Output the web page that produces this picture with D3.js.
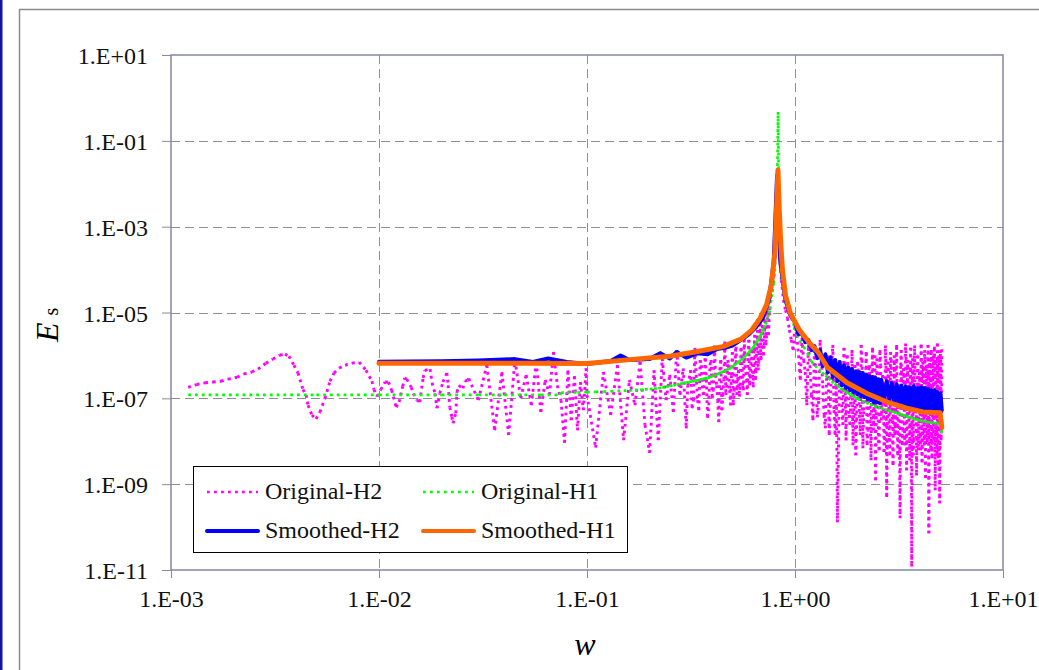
<!DOCTYPE html>
<html>
<head>
<meta charset="utf-8">
<title>Spectra E_s vs w</title>
<script src="https://d3js.org/d3.v7.min.js"></script>
<style>
  html, body { margin: 0; padding: 0; background: #fff; }
  svg { display: block; font-family: "Liberation Serif", "DejaVu Serif", serif; }
</style>
</head>
<body>
<svg id="chart" width="1039" height="670"></svg>
<script>
// tick values and their labels
var xTicks = [1e-3, 1e-2, 1e-1, 1e0, 1e1];
var xTickLabels = ["1.E-03", "1.E-02", "1.E-01", "1.E+00", "1.E+01"];
var yTicks = [1e1, 1e-1, 1e-3, 1e-5, 1e-7, 1e-9, 1e-11];
var yTickLabels = ["1.E+01", "1.E-01", "1.E-03", "1.E-05", "1.E-07", "1.E-09", "1.E-11"];

// Original-H2 : [w, Es]
var origH2 = [
  [1.21e-3,1.8e-7],[1.33e-3,2.1e-7],[1.46e-3,2.3e-7],[1.59e-3,2.4e-7],[1.74e-3,2.5e-7],[1.88e-3,2.8e-7],
  [2.08e-3,3.1e-7],[2.24e-3,3.7e-7],[2.45e-3,4.1e-7],[2.62e-3,4.8e-7],[2.86e-3,6.6e-7],[3.09e-3,8.2e-7],
  [3.34e-3,1.02e-6],[3.53e-3,1.07e-6],[3.69e-3,9.6e-7],[3.90e-3,5.9e-7],[4.08e-3,3.9e-7],[4.31e-3,1.6e-7],
  [4.46e-3,1.2e-7],[4.56e-3,6.9e-8],[4.76e-3,4.1e-8],[4.98e-3,3.3e-8],[5.20e-3,4.8e-8],[5.50e-3,1.0e-7],
  [5.81e-3,2.5e-7],[6.08e-3,3.9e-7],[6.43e-3,5.1e-7],[6.87e-3,5.9e-7],[7.42e-3,6.6e-7],[8.02e-3,7.0e-7],
  [8.66e-3,4.5e-7],[9.25e-3,2.5e-7],[9.46e-3,1.6e-7],[9.77e-3,1.1e-7],
  [1.02e-2,1.6e-7],[1.07e-2,2.4e-7],[1.11e-2,2.4e-7],[1.15e-2,1.55e-7],[1.21e-2,6.2e-8],[1.25e-2,8.2e-8],
  [1.30e-2,1.9e-7],[1.33e-2,3.0e-7],[1.36e-2,2.8e-7],[1.43e-2,1.8e-7],[1.46e-2,1.3e-7],[1.52e-2,9.1e-8],
  [1.57e-2,8.2e-8],[1.63e-2,3.0e-7],[1.66e-2,4.5e-7],[1.76e-2,4.8e-7],[1.80e-2,2.3e-7],[1.86e-2,1.3e-7],
  [1.90e-2,5.9e-8],[1.96e-2,1.3e-7],[2.03e-2,2.4e-7],[2.12e-2,3.9e-7],[2.15e-2,2.0e-7],[2.19e-2,6.2e-8],
  [2.24e-2,3.7e-8],[2.27e-2,2.6e-8],[2.34e-2,4.5e-8],[2.37e-2,1.4e-7],[2.42e-2,2.0e-7],[2.53e-2,1.7e-7],
  [2.59e-2,2.5e-7],[2.68e-2,2.7e-7],
  [0.027,2.9e-7],[0.030,9.1e-8],[0.033,5.9e-7],[0.036,1.8e-8],[0.039,4.1e-7],[0.042,1.4e-8],
  [0.045,7.8e-7],[0.048,1.0e-7],[0.051,3.5e-7],[0.054,6.9e-8],[0.057,7.1e-7],[0.060,4.8e-8],
  [0.063,2.7e-7],[0.066,1.2e-7],[0.069,1.2e-6],[0.072,2.0e-7],[0.075,9.1e-8],[0.078,9.3e-9],
  [0.081,4.5e-7],[0.084,3.1e-8],[0.087,3.3e-7],[0.090,1.8e-8],[0.093,2.4e-7],[0.096,5.3e-8],
  [0.099,5.0e-7],
  [0.10,1.2e-7],[0.11,7.1e-9],[0.12,4.1e-7],[0.13,4.1e-8],[0.14,5.9e-7],[0.15,1.06e-8],
  [0.16,2.7e-7],[0.17,6.9e-8],[0.18,7.1e-7],[0.19,2.4e-8],[0.20,5.4e-9],[0.21,4.5e-7],
  [0.22,1.06e-8],[0.23,8.5e-7],[0.24,9.1e-8],[0.25,3.5e-7],[0.26,4.8e-8],[0.27,1.33e-6],
  [0.28,1.2e-7],[0.29,5.0e-7],[0.30,2.0e-8],
  [0.305,2.0e-7],[0.31,2.9e-7],[0.315,4.5e-7],[0.32,5.9e-8],[0.325,9.1e-8],[0.33,1.5e-6],
  [0.335,3.5e-7],[0.34,9.1e-8],[0.345,5.3e-8],[0.35,7.8e-7],[0.355,5.9e-7],[0.36,1.4e-7],
  [0.365,1.2e-7],[0.37,1.2e-6],[0.375,2.7e-7],[0.38,3.5e-8],[0.385,6.9e-8],[0.39,5.9e-7],
  [0.395,7.8e-7],[0.40,1.0e-7],[0.405,1.55e-7],[0.41,1.7e-6],[0.415,3.5e-7],[0.42,2.0e-7],
  [0.425,9.1e-8],[0.43,2.8e-8],[0.435,4.5e-7],[0.44,7.8e-7],[0.445,5.3e-8],[0.45,1.2e-7],
  [0.455,2.7e-7],[0.46,2.1e-6],[0.465,1.2e-7],[0.47,1.8e-7],[0.475,7.8e-7],[0.48,5.9e-7],
  [0.485,1.55e-7],[0.49,6.9e-8],[0.495,3.5e-7],[0.50,1.2e-6],[0.505,6.9e-8],[0.51,1.55e-7],
  [0.515,5.9e-7],[0.52,2.3e-6],[0.525,1.2e-7],[0.53,2.7e-7],[0.535,4.5e-7],[0.54,1.1e-7],
  [0.545,2.0e-7],[0.55,1.5e-6],[0.555,1.0e-6],[0.56,2.0e-7],[0.565,1.55e-7],[0.57,2.6e-6],
  [0.575,5.9e-7],[0.58,4.1e-7],[0.585,2.7e-7],[0.59,1.2e-7],[0.595,1.0e-6],[0.60,2.3e-6],
  [0.605,2.0e-7],[0.61,2.9e-7],[0.615,7.8e-7],[0.62,1.33e-6],[0.625,3.5e-7],[0.63,1.8e-7],
  [0.635,1.33e-6],[0.64,3.0e-6],[0.645,2.7e-7],[0.65,4.5e-7],[0.655,1.74e-6],[0.66,3.9e-6],
  [0.665,4.5e-7],[0.67,7.1e-7],[0.675,2.27e-6],[0.68,6.0e-6],[0.685,7.8e-7],[0.69,1.0e-6],
  [0.695,2.97e-6],[0.70,7.4e-6],[0.705,1.0e-6],[0.71,1.74e-6],[0.715,3.9e-6],[0.72,1.0e-5],
  [0.725,1.74e-6],[0.73,3.0e-6],[0.735,6.65e-6],[0.74,1.5e-5],[0.745,2.97e-6],[0.75,6.0e-6],
  [0.755,1.14e-5],[0.76,2.1e-5],
  [0.77,4.4e-5],[0.78,3.0e-5],[0.79,1.5e-4],[0.80,4.9e-4],[0.81,3.2e-3],
  [0.82,1.2e-2],[0.83,1.9e-3],[0.84,2.9e-4],[0.86,5.7e-5],
  [0.88,1.95e-5],[0.90,1.14e-5],[0.92,7.4e-6],[0.94,3.9e-6],[0.96,2.3e-6],[0.98,1.33e-6],
  [1.00,5.1e-6],[1.02,2.97e-6],[1.04,1.0e-6],[1.06,2.7e-7],[1.08,2.5e-6],[1.10,7.8e-7],
  [1.12,4.1e-7],[1.14,6.9e-8],[1.16,1.74e-6],[1.18,5.9e-7],[1.20,1.2e-7],[1.22,3.1e-8],
  [1.24,1.33e-6],[1.26,4.5e-7],[1.28,3.6e-8],[1.30,9.1e-8],[1.32,2.3e-6],[1.34,7.8e-7],
  [1.36,2.0e-7],[1.38,4.1e-8],[1.40,2.0e-8],[1.42,3.5e-7],[1.44,1.0e-6],[1.46,1.4e-8],
  [1.48,9.1e-8],[1.50,5.9e-7],[1.52,1.74e-6],[1.54,5.3e-8],[1.56,1.4e-8],[1.58,2.7e-7],
  [1.60,1.3e-10],[1.62,1.06e-8],[1.64,7.8e-7],[1.66,4.5e-7],[1.68,5.3e-8],[1.70,2.4e-8],
  [1.72,1.5e-6],[1.74,2.0e-7],[1.76,1.06e-8],[1.78,1.0e-6],[1.80,4.5e-7],[1.82,4.1e-8],
  [1.84,2.4e-8],[1.86,1.55e-7],[1.88,1.33e-6],[1.90,8.1e-9],[1.92,1.2e-7],[1.94,5.9e-7],
  [1.96,4.7e-9],[1.98,3.1e-8],[2.00,7.1e-7],[2.02,3.5e-7],[2.04,4.1e-8],[2.06,1.4e-8],
  [2.08,1.74e-6],[2.10,7.8e-7],[2.12,6.9e-9],[2.14,5.3e-8],[2.16,2.7e-7],[2.18,1.55e-7],
  [2.20,1.2e-6],[2.22,8.1e-9],[2.24,1.8e-8],[2.26,4.5e-7],[2.28,5.9e-7],[2.30,3.1e-8],
  [2.32,3.6e-9],[2.34,2.7e-7],[2.36,1.5e-6],[2.38,1.8e-8],[2.40,6.9e-8],[2.42,1.0e-6],
  [2.44,1.24e-9],[2.46,4.1e-8],[2.48,8.5e-7],[2.50,2.0e-7],[2.52,1.06e-8],[2.54,6.2e-9],
  [2.56,1.33e-6],[2.58,5.9e-7],[2.60,3.1e-8],[2.62,6.9e-8],[2.64,3.5e-7],[2.66,1.2e-7],
  [2.68,5.6e-9],[2.70,1.06e-8],[2.72,1.7e-6],[2.74,4.5e-7],[2.76,5.0e-10],[2.78,2.4e-8],
  [2.80,7.1e-7],[2.82,2.7e-7],[2.84,1.2e-8],[2.86,4.7e-9],[2.88,1.2e-6],[2.90,7.8e-7],
  [2.92,5.3e-8],[2.94,3.1e-8],[2.96,2.8e-9],[2.98,1.55e-7],[3.00,1.0e-6],[3.02,1.4e-8],
  [3.04,2.4e-8],[3.06,4.5e-7],[3.08,1.74e-6],[3.10,5.3e-8],[3.12,4.7e-9],[3.14,2.0e-7],
  [3.16,2.0e-7],[3.18,6.2e-9],[3.20,1.6e-10],[3.22,5.9e-7],[3.24,1.33e-6],[3.26,9.1e-8],
  [3.28,8.1e-9],[3.30,1.8e-8],[3.32,5.0e-7],[3.34,3.5e-7],[3.36,1.8e-8],[3.38,8.1e-9],
  [3.40,1.9e-6],[3.42,7.8e-7],[3.44,2.1e-9],[3.46,4.1e-8],[3.48,7.8e-7],[3.50,1.55e-7],
  [3.52,6.9e-8],[3.54,1.06e-8],[3.56,3.6e-9],[3.58,4.5e-7],[3.60,1.5e-6],[3.62,2.4e-8],
  [3.64,1.2e-11],[3.66,2.7e-7],[3.68,8.5e-7],[3.70,4.7e-9],[3.72,1.06e-8],[3.74,5.9e-7],
  [3.76,1.7e-6],[3.78,5.3e-8],[3.80,3.1e-8],[3.82,1.2e-7],[3.84,1.6e-9],[3.86,1.06e-8],
  [3.88,1.0e-6],[3.90,1.0e-6],[3.92,6.2e-9],[3.94,3.1e-8],[3.96,4.1e-7],[3.98,2.0e-7],
  [4.00,1.4e-8],[4.02,6.2e-9],[4.04,1.8e-6],[4.06,4.5e-7],[4.08,3.2e-9],[4.10,1.8e-8],
  [4.12,7.1e-7],[4.14,2.7e-7],[4.16,5.3e-8],[4.18,8.1e-9],[4.20,1.33e-6],[4.22,7.8e-7],
  [4.24,1.4e-9],[4.26,6.9e-8],[4.28,5.9e-7],[4.30,1.55e-7],[4.32,9.6e-9],[4.34,1.4e-8],
  [4.36,1.74e-6],[4.38,3.5e-7],[4.40,7.2e-11],[4.42,3.1e-8],[4.44,8.5e-7],[4.46,5.9e-7],
  [4.48,2.4e-8],[4.50,6.2e-9],[4.52,1.33e-6],[4.54,2.0e-7],[4.56,4.0e-9],[4.58,4.1e-8],
  [4.60,3.5e-7],[4.62,1.0e-6],[4.64,1.06e-8],[4.66,1.06e-8],[4.68,1.6e-6],[4.70,3.5e-7],
  [4.72,7.2e-10],[4.74,2.4e-8],[4.76,7.8e-7],[4.78,1.2e-7],[4.80,1.8e-8],[4.82,4.7e-9],
  [4.84,1.9e-6],[4.86,5.9e-7],[4.88,2.8e-9],[4.90,5.3e-8],[4.92,1.0e-6],[4.94,2.7e-7],
  [4.96,3.6e-10],[4.98,8.1e-9],[5.00,1.33e-6],[5.02,7.8e-7],[5.04,1.06e-8],[5.06,3.1e-8],
  [5.08,1.74e-6]
];

// Original-H1 : [w, Es]
var origH1 = [
  [1.21e-3,1.2e-7],[5.0e-3,1.2e-7],[1.0e-2,1.2e-7],[2.0e-2,1.2e-7],[0.03,1.2e-7],[0.04,1.2e-7],
  [0.05,1.2e-7],[0.06,1.2e-7],[0.07,1.2e-7],[0.074,1.2e-7],[0.075,1.35e-7],
  [0.08,1.36e-7],[0.09,1.38e-7],[0.10,1.39e-7],[0.11,1.41e-7],[0.12,1.43e-7],[0.13,1.45e-7],
  [0.14,1.48e-7],[0.15,1.51e-7],[0.16,1.53e-7],[0.17,1.56e-7],[0.18,1.58e-7],[0.19,1.62e-7],
  [0.20,1.65e-7],[0.21,1.67e-7],[0.22,1.72e-7],[0.23,1.78e-7],[0.24,1.86e-7],[0.25,1.94e-7],
  [0.26,2.01e-7],[0.27,2.09e-7],[0.28,2.17e-7],[0.29,2.26e-7],[0.30,2.33e-7],
  [0.31,2.40e-7],[0.32,2.48e-7],[0.33,2.56e-7],[0.34,2.64e-7],[0.35,2.73e-7],[0.36,2.82e-7],
  [0.37,2.91e-7],[0.38,3.0e-7],[0.39,3.1e-7],[0.40,3.25e-7],[0.41,3.42e-7],[0.42,3.59e-7],
  [0.43,3.78e-7],[0.44,3.96e-7],[0.45,4.17e-7],[0.46,4.38e-7],[0.47,4.6e-7],[0.48,4.83e-7],
  [0.49,5.09e-7],[0.50,5.48e-7],[0.51,5.89e-7],[0.52,6.31e-7],[0.53,6.78e-7],[0.54,7.28e-7],
  [0.55,7.8e-7],[0.56,8.4e-7],[0.57,9.1e-7],[0.58,9.9e-7],[0.59,1.08e-6],[0.60,1.18e-6],
  [0.61,1.29e-6],[0.62,1.40e-6],[0.63,1.53e-6],[0.64,1.73e-6],[0.65,1.95e-6],[0.66,2.20e-6],
  [0.67,2.48e-6],[0.68,2.79e-6],[0.69,3.15e-6],[0.70,3.67e-6],[0.71,4.39e-6],[0.72,5.25e-6],
  [0.73,6.27e-6],[0.74,7.85e-6],[0.75,9.6e-6],[0.76,1.19e-5],[0.77,2.3e-5],[0.78,3.0e-5],
  [0.79,4.8e-5],[0.80,9.0e-5],[0.81,4.0e-4],[0.82,4.2e-3],[0.829,0.47],[0.835,1.4e-2],
  [0.842,1.4e-3],[0.85,2.6e-4],[0.856,9.7e-5],[0.87,4.3e-5],[0.88,3.1e-5],[0.90,1.7e-5],
  [0.92,1.25e-5],[0.94,9.5e-6],[0.96,7.5e-6],[0.98,5.6e-6],[1.00,4.3e-6],
  [1.05,2.2e-6],[1.10,1.58e-6],[1.15,1.12e-6],[1.20,7.1e-7],[1.25,5.8e-7],[1.30,4.7e-7],
  [1.35,4.0e-7],[1.40,3.4e-7],[1.45,2.95e-7],[1.50,2.5e-7],[1.55,2.2e-7],[1.60,1.95e-7],
  [1.65,1.7e-7],[1.70,1.55e-7],[1.75,1.41e-7],[1.80,1.32e-7],[1.85,1.23e-7],[1.90,1.12e-7],
  [1.95,1.05e-7],[2.0,9.8e-8],[2.1,8.7e-8],[2.2,7.9e-8],[2.3,7.2e-8],[2.4,6.6e-8],
  [2.5,6.2e-8],[2.6,5.9e-8],[2.7,5.5e-8],[2.8,5.2e-8],[2.9,4.95e-8],[3.0,4.7e-8],
  [3.1,4.5e-8],[3.2,4.3e-8],[3.3,4.1e-8],[3.4,3.9e-8],[3.5,3.7e-8],[3.6,3.55e-8],
  [3.7,3.4e-8],[3.8,3.3e-8],[3.9,3.15e-8],[4.0,3.05e-8],[4.1,2.95e-8],[4.2,2.9e-8],
  [4.3,2.8e-8],[4.4,2.75e-8],[4.5,2.7e-8],[4.6,2.7e-8],[4.7,2.65e-8],[4.8,2.6e-8],
  [4.9,2.6e-8],[5.0,2.6e-8],[5.08,1.5e-8]
];

// Smoothed-H2 : [w, Es]
var smoothH2 = [
  [0.01,7.1e-7],[0.02,7.3e-7],[0.03,7.6e-7],[0.045,8.2e-7],[0.055,7.0e-7],[0.065,8.5e-7],
  [0.08,7.0e-7],[0.10,6.3e-7],[0.13,7.4e-7],[0.145,1.0e-6],[0.16,7.8e-7],[0.20,8.2e-7],
  [0.225,1.13e-6],[0.25,8.5e-7],[0.27,1.2e-6],[0.30,8.9e-7],[0.34,1.13e-6],[0.38,1.07e-6],
  [0.42,1.4e-6],[0.46,1.5e-6],[0.50,1.7e-6],[0.55,2.3e-6],[0.60,3.1e-6],[0.65,4.6e-6],
  [0.70,7.4e-6],[0.75,2.0e-5],[0.79,1.5e-4],[0.82,1.6e-2],[0.85,1.5e-4],[0.90,2.0e-5],
  [0.95,8.7e-6],
  [1.00,5.97e-6],[1.04,3.14e-6],[1.08,3.31e-6],[1.12,2.04e-6],[1.16,2.27e-6],[1.20,1.33e-6],
  [1.24,1.65e-6],[1.28,8.65e-7],[1.32,1.33e-6],[1.36,5.64e-7],[1.40,1.07e-6],[1.44,4.08e-7],
  [1.48,9.1e-7],[1.52,3.12e-7],[1.56,7.8e-7],[1.60,2.52e-7],[1.64,6.98e-7],[1.68,2.0e-7],
  [1.72,5.9e-7],[1.76,1.73e-7],[1.80,5.33e-7],[1.84,1.55e-7],[1.88,4.8e-7],[1.92,1.4e-7],
  [1.96,4.3e-7],[2.00,1.25e-7],[2.04,4.08e-7],[2.08,1.12e-7],[2.12,3.87e-7],[2.16,1.07e-7],
  [2.20,3.5e-7],[2.24,9.6e-8],[2.28,3.29e-7],[2.32,9.1e-8],[2.36,3.12e-7],[2.40,8.1e-8],
  [2.44,2.96e-7],[2.48,8.1e-8],[2.52,2.8e-7],[2.56,7.7e-8],[2.60,2.7e-7],
  [2.68,1.0e-7],[2.76,2.5e-7],[2.84,9.1e-8],
  [2.92,2.26e-7],[3.00,8.2e-8],[3.08,2.14e-7],[3.16,7.3e-8],[3.24,2.0e-7],[3.32,6.9e-8],
  [3.40,1.92e-7],[3.48,6.2e-8],[3.56,1.82e-7],[3.64,5.9e-8],[3.72,1.92e-7],[3.80,5.6e-8],
  [3.88,1.73e-7],[3.96,5.3e-8],[4.04,1.82e-7],[4.12,5.3e-8],[4.20,1.73e-7],[4.28,5.0e-8],
  [4.36,1.64e-7],[4.44,5.0e-8],[4.52,1.55e-7],[4.60,4.8e-8],[4.68,1.55e-7],[4.76,4.8e-8],
  [4.84,1.4e-7],[4.92,4.6e-8],[5.00,1.32e-7],[5.08,5.3e-8]
];

// Smoothed-H1 : [w, Es]
var smoothH1 = [
  [0.01,6.6e-7],[0.05,6.6e-7],[0.10,6.5e-7],[0.17,8.2e-7],[0.25,9.6e-7],[0.33,1.2e-6],
  [0.45,1.6e-6],[0.55,2.4e-6],[0.62,3.9e-6],[0.68,7.4e-6],[0.73,1.5e-5],[0.77,4.4e-5],
  [0.80,2.4e-4],[0.815,2.4e-3],[0.828,2.1e-2],[0.84,2.4e-3],[0.855,3.7e-4],[0.87,9.7e-5],
  [0.90,2.5e-5],[0.95,9.7e-6],[1.05,3.9e-6],[1.18,1.9e-6],[1.29,1.2e-6],[1.43,5.3e-7],
  [1.78,2.3e-7],[2.22,1.3e-7],[2.77,8.2e-8],[3.45,5.9e-8],[4.12,4.8e-8],[4.98,4.6e-8],
  [5.08,2.1e-8]
];

var svg = d3.select("#chart");
var W = 1039, H = 670;
var plotL = 171, plotR = 1003, plotT = 55, plotB = 570;

var x = d3.scaleLog().domain([1e-3, 1e1]).range([plotL, plotR]);
var y = d3.scaleLog().domain([1e-11, 1e1]).range([plotB, plotT]);

// outer frame
svg.append("rect").attr("x", 0).attr("y", 0).attr("width", W).attr("height", H).attr("fill", "#fff");
svg.append("rect").attr("x", 0).attr("y", 0).attr("width", 2.5).attr("height", H).attr("fill", "#1414a0");
svg.append("rect")
    .attr("x", 19.5).attr("y", 9.5).attr("width", W + 10).attr("height", H + 10)
    .attr("fill", "none").attr("stroke", "#8c8c8c").attr("stroke-width", 1.5);

// grid
var grid = svg.append("g").attr("stroke", "#8f8f8f").attr("stroke-width", 1).attr("stroke-dasharray", "9,5");
grid.selectAll("line.h").data(yTicks.slice(1, -1)).join("line").attr("class", "h")
    .attr("x1", plotL).attr("x2", plotR)
    .attr("y1", function(d) { return Math.round(y(d)) + 0.5; })
    .attr("y2", function(d) { return Math.round(y(d)) + 0.5; });
grid.selectAll("line.v").data(xTicks.slice(1, -1)).join("line").attr("class", "v")
    .attr("y1", plotT).attr("y2", plotB)
    .attr("x1", function(d) { return Math.round(x(d)) + 0.5; })
    .attr("x2", function(d) { return Math.round(x(d)) + 0.5; });

// axes
var yAxis = d3.axisLeft(y).tickValues(yTicks).tickSize(9).tickPadding(14)
    .tickFormat(function(d, i) { return yTickLabels[i]; });
var xAxis = d3.axisBottom(x).tickValues(xTicks).tickSize(8).tickPadding(24)
    .tickFormat(function(d, i) { return xTickLabels[i]; });

var gy = svg.append("g").attr("transform", "translate(" + plotL + ",0)").call(yAxis);
var gx = svg.append("g").attr("transform", "translate(0," + plotB + ")").call(xAxis);
[gx, gy].forEach(function(g) {
    g.select(".domain").remove();
    g.selectAll(".tick line").attr("stroke", "#8c8c8c");
    g.selectAll(".tick text").attr("fill", "#111").style("font-size", "24px")
        .style("font-family", "'Liberation Serif', serif");
});
gy.selectAll(".tick text").attr("dy", "0.36em");
gx.selectAll(".tick text").attr("dy", "0.2em");

// series, clipped to the plot area
svg.append("clipPath").attr("id", "clip").append("rect")
    .attr("x", plotL).attr("y", plotT).attr("width", plotR - plotL).attr("height", plotB - plotT);
var plot = svg.append("g").attr("clip-path", "url(#clip)");

// dotted series: every segment starts its own dash pattern
function dotted(data, color, width) {
    plot.append("g").selectAll("line").data(d3.pairs(data)).join("line")
        .attr("x1", function(d) { return x(d[0][0]); })
        .attr("y1", function(d) { return y(d[0][1]); })
        .attr("x2", function(d) { return x(d[1][0]); })
        .attr("y2", function(d) { return y(d[1][1]); })
        .attr("stroke", color).attr("stroke-width", width)
        .attr("stroke-dasharray", "2.8,4");
}
var line = d3.line().x(function(d) { return x(d[0]); }).y(function(d) { return y(d[1]); });
function solid(data, color, width) {
    plot.append("path").datum(data).attr("d", line)
        .attr("fill", "none").attr("stroke", color).attr("stroke-width", width)
        .attr("stroke-linejoin", "round").attr("stroke-linecap", "round");
}

dotted(origH2, "#ff00ff", 2.9);
dotted(origH1, "#00ff00", 2.7);
solid(smoothH2, "#0000ff", 4);
solid(smoothH1, "#ff6600", 5);

// plot border
svg.append("rect")
    .attr("x", plotL).attr("y", plotT).attr("width", plotR - plotL).attr("height", plotB - plotT)
    .attr("fill", "none").attr("stroke", "#8585a6").attr("stroke-width", 1.5);

// axis titles
svg.append("text").attr("x", 585).attr("y", 655).attr("text-anchor", "middle")
    .style("font-size", "32px").style("font-style", "italic").text("w");
var ytitle = svg.append("text").attr("transform", "translate(58,342) rotate(-90)")
    .style("font-size", "32px");
ytitle.append("tspan").style("font-style", "italic").text("E");
ytitle.append("tspan").attr("dx", 7).style("font-size", "20px").text("s");

// legend
var legend = svg.append("g");
legend.append("rect").attr("x", 193.5).attr("y", 466.5).attr("width", 434).attr("height", 86)
    .attr("fill", "#fff").attr("stroke", "#000").attr("stroke-width", 1);
var legendItems = [
    { name: "Original-H2", color: "#ff00ff", w: 2.4, dash: true, lx: 207, ly: 492 },
    { name: "Original-H1", color: "#00ff00", w: 2.4, dash: true, lx: 423, ly: 492 },
    { name: "Smoothed-H2", color: "#0000ff", w: 4, dash: false, lx: 207, ly: 531 },
    { name: "Smoothed-H1", color: "#ff6600", w: 4, dash: false, lx: 423, ly: 531 }
];
legendItems.forEach(function(it) {
    legend.append("line").attr("x1", it.lx).attr("x2", it.lx + 51)
        .attr("y1", it.ly).attr("y2", it.ly)
        .attr("stroke", it.color).attr("stroke-width", it.w)
        .attr("stroke-linecap", it.dash ? "butt" : "round")
        .attr("stroke-dasharray", it.dash ? "2.8,4.2" : null);
    legend.append("text").attr("x", it.lx + 58).attr("y", it.ly + 7)
        .style("font-size", "24px").attr("fill", "#111").text(it.name);
});
</script>
</body>
</html>
